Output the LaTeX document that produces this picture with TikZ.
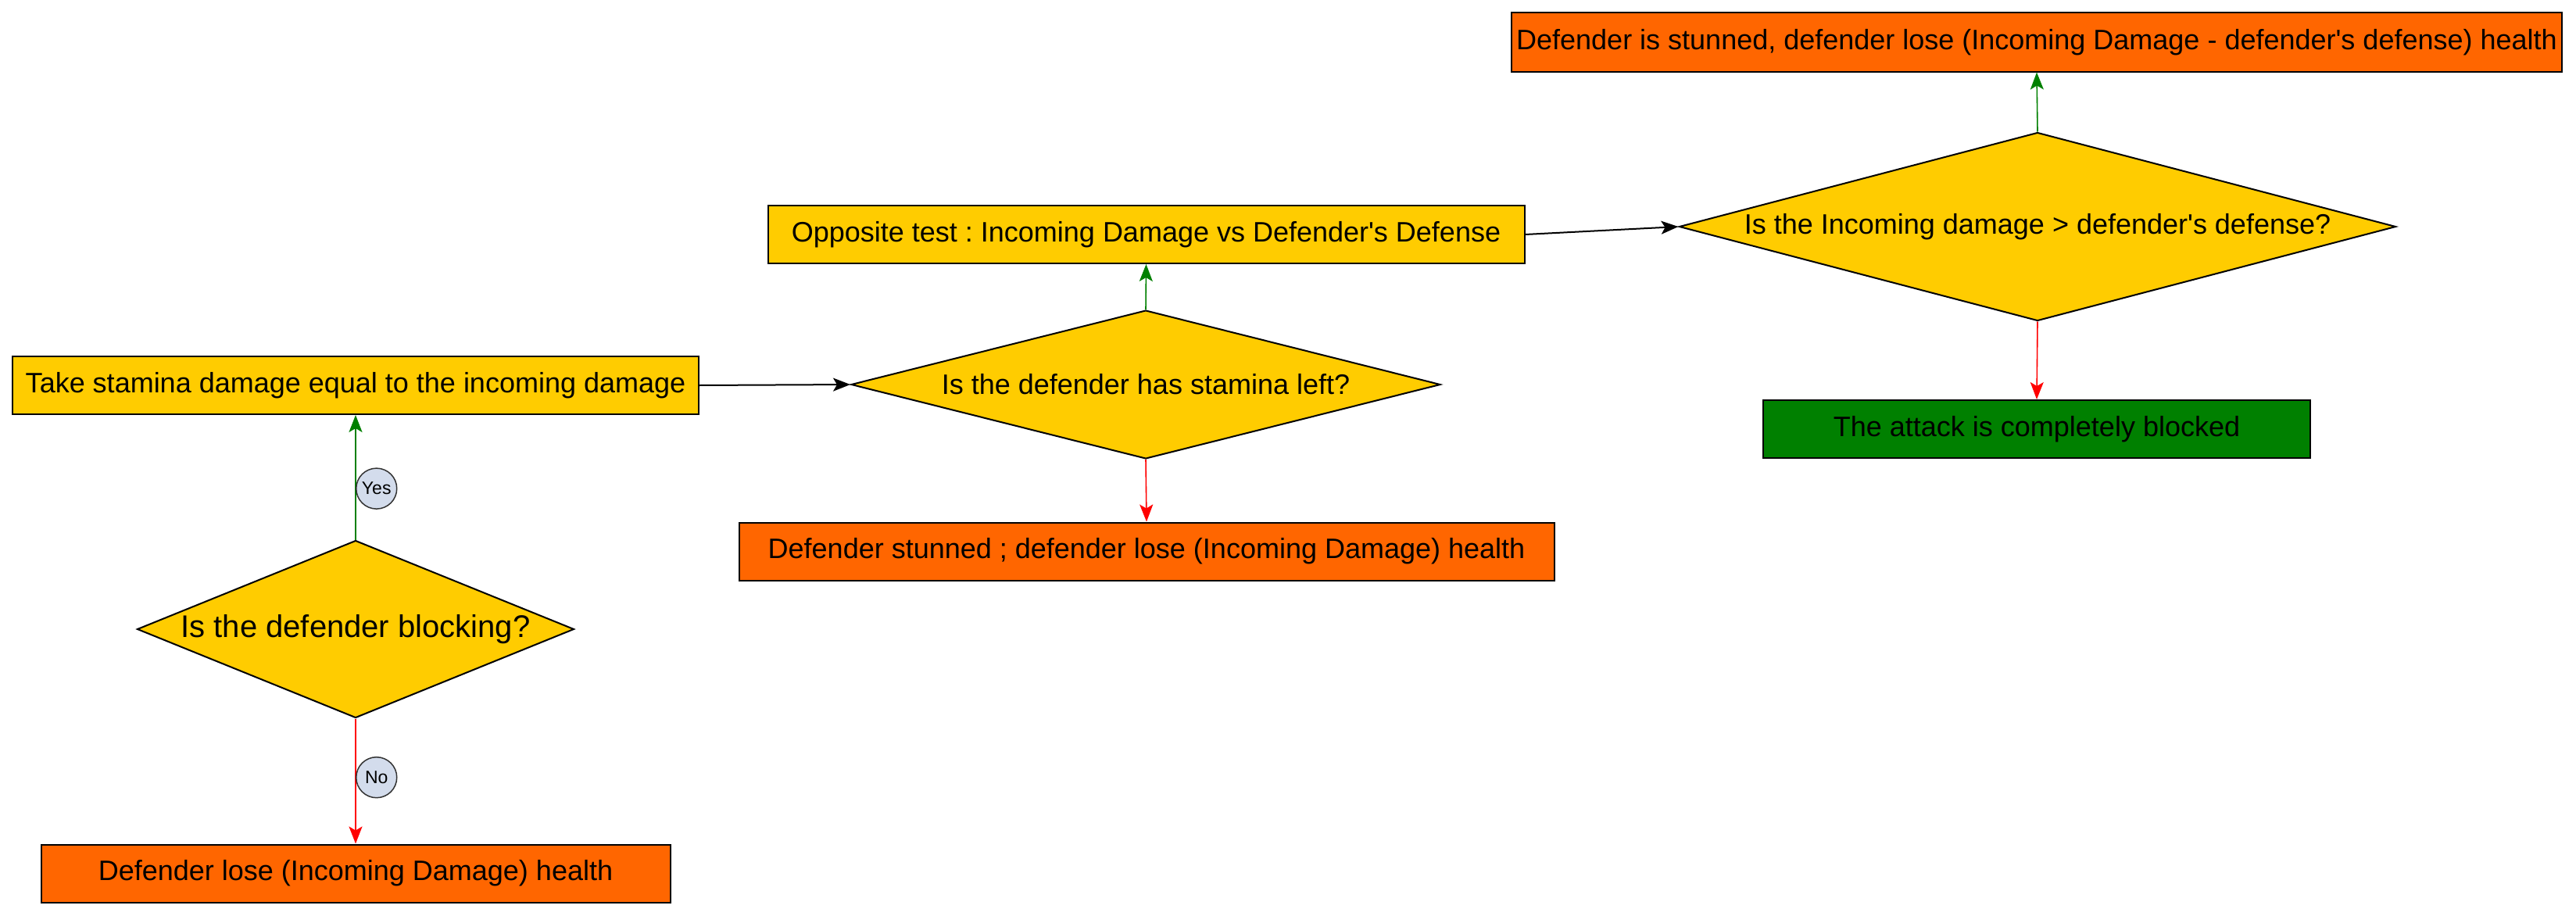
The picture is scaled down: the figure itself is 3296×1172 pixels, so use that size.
\documentclass[tikz,border=0pt]{standalone}
\usepackage{fontspec}
\setmainfont{Liberation Sans}
\usetikzlibrary{shapes.geometric,arrows.meta}
\definecolor{dyellow}{HTML}{FFCC00}
\definecolor{dorange}{HTML}{FF6600}
\definecolor{dgreen}{HTML}{008000}
\definecolor{dred}{HTML}{FF0000}
\definecolor{lblfill}{HTML}{D3DCEC}
\frenchspacing
\begin{document}
\begin{tikzpicture}[x=1pt,y=-1pt,
  box/.style={draw=black, line width=2pt, rectangle, inner sep=0pt, minimum height=74pt, font=\fontsize{36}{43}\selectfont},
  ybox/.style={box, fill=dyellow},
  obox/.style={box, fill=dorange},
  gbox/.style={box, fill=dgreen},
  dia/.style={draw=black, line width=2pt, diamond, fill=dyellow, inner sep=0pt, font=\fontsize{36}{43}\selectfont},
  conn/.style={line width=1.6pt, -{Stealth[length=22pt,width=17pt,inset=5pt]}},
  yesline/.style={conn, color=dgreen},
  noline/.style={conn, color=dred},
  plainline/.style={conn, color=black, line width=2pt},
  lbl/.style={circle, draw=black!80, line width=1.5pt, fill=lblfill, text=black, inner sep=0pt, minimum size=52pt, font=\fontsize{23}{27}\selectfont}
]
\useasboundingbox (0,0) rectangle (3296,1172);

% nodes
\node[dia, minimum width=559pt, minimum height=227pt, shape aspect=2.46, font=\fontsize{40}{48}\selectfont] (blk) at (455,805) {Is the defender blocking?};
\node[ybox, minimum width=878pt] (stam) at (455,493) {Take stamina damage equal to the incoming damage};
\node[obox, minimum width=805pt] (lose1) at (455,1117.5) {Defender lose (Incoming Damage) health};

\node[dia, minimum width=754pt, minimum height=190pt, shape aspect=3.97] (left) at (1466,492) {Is the defender has stamina left?};
\node[ybox, minimum width=968pt] (opp) at (1466.5,300) {Opposite test : Incoming Damage vs Defender\textquotesingle s Defense};
\node[obox, minimum width=1043pt] (stun1) at (1467,705.5) {Defender stunned ; defender lose (Incoming Damage) health};

\node[dia, minimum width=917pt, minimum height=241pt, shape aspect=3.8] (gt) at (2607,290) {Is the Incoming damage > defender\textquotesingle s defense?};
\node[obox, minimum width=1344pt, minimum height=75pt] (stun2) at (2606,54) {Defender is stunned, defender lose (Incoming Damage - defender\textquotesingle s defense) health};
\node[gbox, minimum width=700pt] (blocked) at (2606,549) {The attack is completely blocked};

% connectors
\draw[yesline] (blk.north) -- node[lbl, pos=0.41, anchor=west] (yes) {Yes} (stam.south);
\draw[noline] (blk.south) -- node[lbl, pos=0.47, anchor=west] (no) {No} (lose1.north);
\draw[plainline] (stam.east) -- (left.west);
\draw[yesline] (left.north) -- (opp.south);
\draw[noline] (left.south) -- (stun1.north);
\draw[plainline] (opp.east) -- (gt.west);
\draw[yesline] (gt.north) -- (stun2.south);
\draw[noline] (gt.south) -- (blocked.north);
\end{tikzpicture}
\end{document}
